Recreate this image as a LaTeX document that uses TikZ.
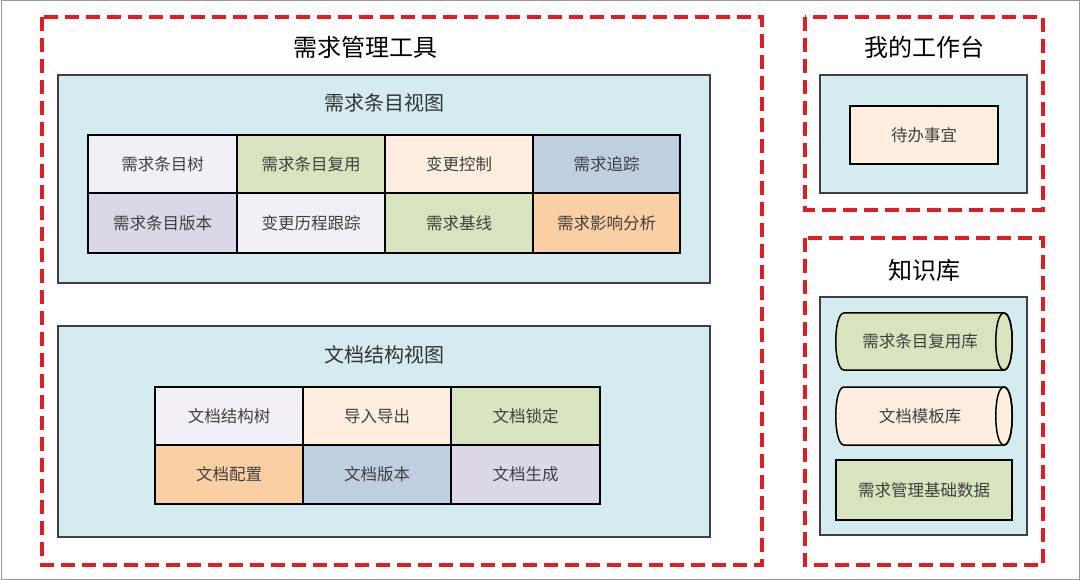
\documentclass[tikz,border=0pt]{standalone}
\usepackage{fontspec}
\newfontfamily\cjk{Noto Sans CJK SC}
\definecolor{cgray}{HTML}{F2F0F6}
\definecolor{cgreen}{HTML}{D7E4BD}
\definecolor{cpeach}{HTML}{FDEEDF}
\definecolor{cblue}{HTML}{C0CFE0}
\definecolor{clav}{HTML}{DCD6E6}
\definecolor{corange}{HTML}{FBCFA4}
\definecolor{cpanel}{HTML}{D4EBF0}
\definecolor{cred}{HTML}{DD1F25}
\tikzset{
  x=1pt,y=-1pt,
  dashbox/.style={draw=cred,line width=3.5pt,dash pattern=on 14pt off 7pt},
  panel/.style={draw=black!75,line width=1.3pt,fill=cpanel},
  cell/.style={draw=black,line width=1.5pt},
  lbl/.style={font=\cjk\fontsize{16.5}{19}\selectfont,text=black!75},
  ttl/.style={font=\cjk\fontsize{24}{28}\selectfont},
  sttl/.style={font=\cjk\fontsize{20}{24}\selectfont,text=black!80},
}
\begin{document}
\begin{tikzpicture}
\useasboundingbox (0,0) rectangle (1080,580);
\draw[black!40,line width=1pt,fill=white] (1,1) rectangle (1079,579);
\draw[dashbox] (42,17) rectangle (762,565);
\draw[dashbox] (805,17) rectangle (1043,210);
\draw[dashbox] (805,238) rectangle (1043,565);
\node[ttl] (t1) at (365,47) {需求管理工具};
\node[ttl] (t2) at (924,47) {我的工作台};
\node[ttl] (t3) at (924,270) {知识库};
% panel 1
\draw[panel] (58,75) rectangle (710,283);
\node[sttl] (p1) at (384,103) {需求条目视图};
\def\cellA#1#2#3#4#5#6#7{\draw[cell,fill=#5] (#1,#2) rectangle (#3,#4); \node[lbl] (#7) at ({(#1+#3)/2},{(#2+#4)/2}) {#6};}
\cellA{88}{135}{237}{193}{cgray}{需求条目树}{a1}
\cellA{237}{135}{385}{193}{cgreen}{需求条目复用}{a2}
\cellA{385}{135}{533}{193}{cpeach}{变更控制}{a3}
\cellA{533}{135}{680}{193}{cblue}{需求追踪}{a4}
\cellA{88}{193}{237}{253}{clav}{需求条目版本}{a5}
\cellA{237}{193}{385}{253}{cgray}{变更历程跟踪}{a6}
\cellA{385}{193}{533}{253}{cgreen}{需求基线}{a7}
\cellA{533}{193}{680}{253}{corange}{需求影响分析}{a8}
% panel 2
\draw[panel] (58,326) rectangle (710,537);
\node[sttl] (p2) at (384,355) {文档结构视图};
\cellA{155}{387}{303}{445}{cgray}{文档结构树}{b1}
\cellA{303}{387}{451}{445}{cpeach}{导入导出}{b2}
\cellA{451}{387}{600}{445}{cgreen}{文档锁定}{b3}
\cellA{155}{445}{303}{504}{corange}{文档配置}{b4}
\cellA{303}{445}{451}{504}{cblue}{文档版本}{b5}
\cellA{451}{445}{600}{504}{clav}{文档生成}{b6}
% workbench
\draw[panel] (820,75) rectangle (1027,193);
\cellA{850}{106}{998}{164}{cpeach}{待办事宜}{c1}
% knowledge base
\draw[panel] (820,297) rectangle (1027,535);
\def\cyl#1#2#3{%
  \draw[cell,fill=#3] (1004,#1) -- (844,#1) .. controls (833,#1) and (833,#2) .. (844,#2) -- (1004,#2) .. controls (1015,#2) and (1015,#1) .. (1004,#1) -- cycle;
  \draw[cell] (1004,#1) .. controls (1015,#1) and (1015,#2) .. (1004,#2) .. controls (993,#2) and (993,#1) .. (1004,#1) -- cycle;}
\cyl{313}{370}{cgreen}
\node[lbl] (k1) at (920,341) {需求条目复用库};
\cyl{387}{445}{cpeach}
\node[lbl] (k2) at (920,416) {文档模板库};
\cellA{836}{460}{1012}{520}{cgreen}{需求管理基础数据}{k3}
\end{tikzpicture}
\end{document}
